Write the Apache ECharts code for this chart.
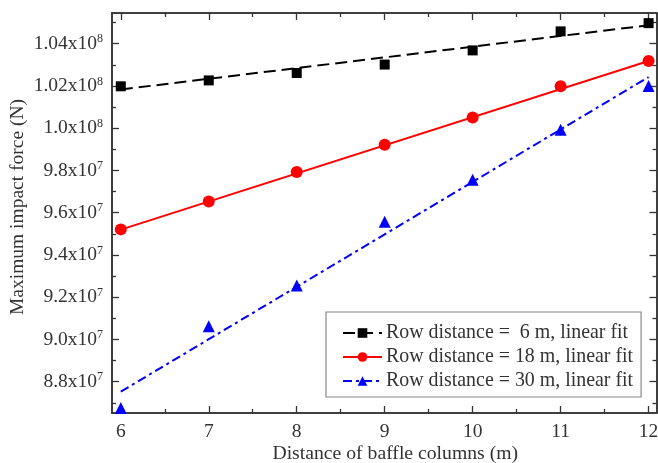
<!DOCTYPE html>
<html>
<head>
<meta charset="utf-8">
<script src="https://cdn.jsdelivr.net/npm/echarts@6/dist/echarts.min.js"></script>
<style>html,body{margin:0;padding:0;background:#fff}#c{width:658px;height:463px}</style>
</head>
<body>
<div id="c"></div>
<script>
// ---- data ----
var xValues = [6, 7, 8, 9, 10, 11, 12];
var row6 = [1.0198e8, 1.0226e8, 1.0261e8, 1.0301e8, 1.0368e8, 1.0458e8, 1.0497e8];
var row18 = [9.521e7, 9.653e7, 9.792e7, 9.921e7, 1.0051e8, 1.0198e8, 1.0318e8];
var row30 = [8.676e7, 9.062e7, 9.255e7, 9.557e7, 9.756e7, 9.993e7, 1.0200e8];
var fitX = [6, 12];
var fit6 = [1.0183e8, 1.0487e8];
var fit18 = [9.520e7, 1.0318e8];
var fit30 = [8.753e7, 1.0242e8];
var seriesNames = ['Row distance =  6 m, linear fit', 'Row distance = 18 m, linear fit', 'Row distance = 30 m, linear fit'];
var xTicks = [6, 7, 8, 9, 10, 11, 12];
var xMinorTicks = [6.5, 7.5, 8.5, 9.5, 10.5, 11.5];
var yTicks = [8.8e7, 9.0e7, 9.2e7, 9.4e7, 9.6e7, 9.8e7, 1.0e8, 1.02e8, 1.04e8];
var yTickLabels = ['8.8x10^7', '9.0x10^7', '9.2x10^7', '9.4x10^7', '9.6x10^7', '9.8x10^7', '1.0x10^8', '1.02x10^8', '1.04x10^8'];
var yMinorTicks = [8.7e7, 8.9e7, 9.1e7, 9.3e7, 9.5e7, 9.7e7, 9.9e7, 1.01e8, 1.03e8, 1.05e8];
var xTitle = 'Distance of baffle columns (m)';
var yTitle = 'Maximum impact force (N)';

// ---- chart ----
var FONT = 'Liberation Serif';
var TXT = '#333';
var FS = 19.5;
var XMIN = 5.9, XMAX = 12.09, YMIN = 8.652e7, YMAX = 1.0545e8;
function pairs(xs, ys) { return xs.map(function (x, i) { return [x, ys[i]]; }); }
var axisLine = { show: true, lineStyle: { color: '#333', width: 1.5 } };

function xAxisDef(pos, ticks, len, labels) {
  return {
    type: 'value', position: pos, min: XMIN, max: XMAX,
    axisLine: axisLine, splitLine: { show: false },
    axisTick: { show: true, inside: true, length: len, customValues: ticks, lineStyle: { color: '#333', width: 1.3 } },
    axisLabel: labels ? { show: true, customValues: ticks, margin: 9, fontFamily: FONT, fontSize: FS, color: TXT } : { show: false },
    name: labels ? xTitle : '', nameLocation: 'middle', nameGap: 31, nameMoveOverlap: false,
    nameTextStyle: { fontFamily: FONT, fontSize: 19.7, color: TXT, padding: [0, 0, 0, 22] }
  };
}
function yAxisDef(pos, ticks, len, labels) {
  return {
    type: 'value', position: pos, min: YMIN, max: YMAX,
    axisLine: axisLine, splitLine: { show: false },
    axisTick: { show: true, inside: true, length: len, customValues: ticks, lineStyle: { color: '#333', width: 1.3 } },
    axisLabel: labels ? {
      show: true, customValues: ticks, margin: 9, fontFamily: FONT, fontSize: FS, color: TXT,
      formatter: function (v) {
        var i = yTicks.findIndex(function (t) { return Math.abs(t - v) < 1; });
        var s = i >= 0 ? yTickLabels[i] : '';
        var p = s.split('^');
        return p[0] + '{sup|' + (p[1] || '') + '}';
      },
      rich: { sup: { fontFamily: FONT, fontSize: 12, color: TXT, verticalAlign: 'top', padding: [0, 0, 9, 0] } }
    } : { show: false },
    name: labels ? yTitle : '', nameLocation: 'middle', nameGap: 84, nameMoveOverlap: false,
    nameTextStyle: { fontFamily: FONT, fontSize: FS, color: TXT, padding: [0, 0, 0, 12] }
  };
}

var colors = ['#000000', '#ff0000', '#0000ff'];
var symbols = ['rect', 'circle', 'triangle'];
var symSizes = [10, 12, 12];
var lineTypes = [[12, 6], 'solid', [9, 4, 3, 4]];
var fits = [fit6, fit18, fit30];
var pts = [row6, row18, row30];

var series = [];
for (var k = 0; k < 3; k++) {
  series.push({
    name: seriesNames[k], type: 'line', data: pairs(fitX, fits[k]),
    symbol: symbols[k], symbolSize: symSizes[k], showSymbol: false,
    itemStyle: { color: colors[k] },
    lineStyle: { color: colors[k], width: 2, type: lineTypes[k] },
    z: 2, silent: true
  });
}
for (var k2 = 0; k2 < 3; k2++) {
  series.push({
    name: seriesNames[k2] + ' pts', type: 'scatter', data: pairs(xValues, pts[k2]),
    symbol: symbols[k2], symbolSize: symSizes[k2], clip: false,
    itemStyle: { color: colors[k2], opacity: 1 }, z: 3, silent: true
  });
}

var chart = echarts.init(document.getElementById('c'), null, { renderer: 'canvas' });
chart.setOption({
  animation: false,
  backgroundColor: '#fff',
  grid: { left: 112, right: 1.5, top: 13, bottom: 50, containLabel: false, outerBoundsMode: 'none' },
  xAxis: [
    xAxisDef('bottom', xTicks, 7, true),
    xAxisDef('bottom', xMinorTicks, 4, false),
    xAxisDef('top', xTicks, 7, false),
    xAxisDef('top', xMinorTicks, 4, false)
  ],
  yAxis: [
    yAxisDef('left', yTicks, 7, true),
    yAxisDef('left', yMinorTicks, 4, false),
    yAxisDef('right', yTicks, 7, false),
    yAxisDef('right', yMinorTicks, 4, false)
  ],
  legend: {
    data: seriesNames, orient: 'vertical', left: 326, top: 312,
    itemWidth: 39, itemHeight: 12, itemGap: 4,
    padding: [11, 8, 6, 16],
    borderColor: '#888', borderWidth: 1.2, backgroundColor: '#fff',
    textStyle: { fontFamily: FONT, fontSize: 19.9, color: TXT, padding: [0, 0, 0, -1] },
    selectedMode: false
  },
  series: series
});
</script>
</body>
</html>
